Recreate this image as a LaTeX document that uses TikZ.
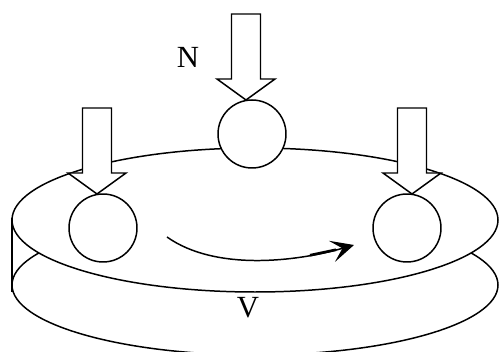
\documentclass[tikz,border=0pt]{standalone}
\usepackage{amsmath,amssymb}
\usepackage{fontspec}
\setmainfont{Liberation Serif}
\usetikzlibrary{arrows.meta}

\begin{document}
\begin{tikzpicture}[line width=0.85pt, every node/.style={font=\fontsize{17.5}{20}\selectfont},
  >={Stealth[length=4.6mm,width=4.4mm,inset=2.2mm]},
  ball/.style={circle,draw,fill=white,minimum size=13.6mm,inner sep=0pt},
  pusher/.style={draw,fill=white,line join=miter},
  disc/.style={draw,fill=white}]
\useasboundingbox (0,0) rectangle (9.98,7.04);
\draw[disc] (5.10,1.34) ellipse (4.86 and 1.40);
\draw[disc] (5.10,2.64) ellipse (4.86 and 1.44);
\coordinate (axisTop) at (0.24,2.68);
\coordinate (axisBot) at (0.24,1.20);
\draw (axisTop) -- (axisBot);
\node[ball] (ballT) at (5.04,4.36) {};
\node[ball] (ballL) at (2.06,2.48) {};
\node[ball] (ballR) at (8.14,2.48) {};
\foreach \x/\y in {4.92/5.04, 1.94/3.16, 8.24/3.16}
  \draw[pusher] (\x,\y) -- ++(-0.58,0.42) -- ++(0.29,0) -- ++(0,1.30)
    -- ++(0.58,0) -- ++(0,-1.30) -- ++(0.29,0) -- cycle;
\node (loadN) at (3.76,5.90) {N};
\node (speedV) at (4.96,0.88) {V};
\coordinate (spinA) at (3.34,2.30);
\coordinate (spinB) at (7.08,2.14);
\coordinate (thickA) at (6.20,1.935);
\coordinate (thickB) at (6.72,2.045);
\draw[->] (spinA) .. controls (4.30,1.62) and (5.90,1.80) .. (spinB);
\draw[line width=1.5pt] (thickA) -- (thickB);
\end{tikzpicture}
\end{document}
